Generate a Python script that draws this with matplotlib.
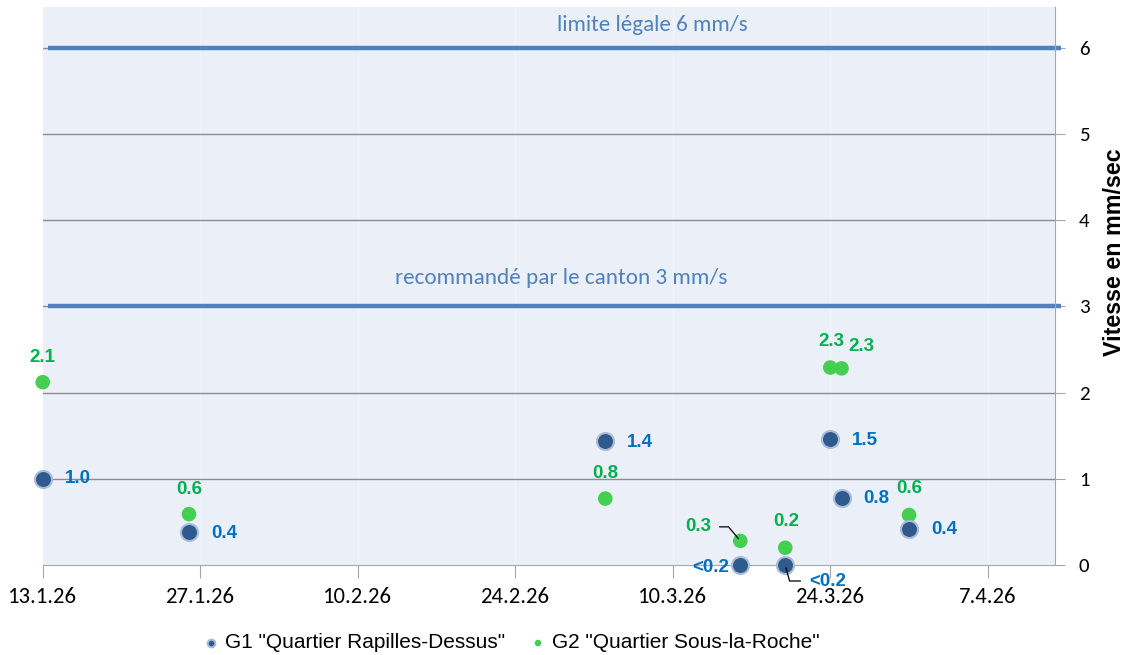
import matplotlib
matplotlib.use("Agg")
import matplotlib.pyplot as plt
import matplotlib.dates as mdates
from matplotlib import font_manager as fm
import numpy as np

# ---------------- data ----------------
dates = ["2026-01-13", "2026-01-26", "2026-03-04", "2026-03-16",
         "2026-03-20", "2026-03-24", "2026-03-25", "2026-03-31"]
g1_values = [1.0, 0.38, 1.44, 0.0, 0.0, 1.46, 0.78, 0.42]
g2_values = [2.12, 0.59, 0.77, 0.28, 0.20, 2.29, 2.28, 0.58]
g1_name = 'G1 "Quartier Rapilles-Dessus"'
g2_name = 'G2 "Quartier Sous-la-Roche"'
limit_legal = 6
limit_canton = 3
limit_legal_text = "limite légale 6 mm/s"
limit_canton_text = "recommandé par le canton 3 mm/s"
y_label = "Vitesse en mm/sec"
x_start = "2026-01-13"
x_end = "2026-04-13"
y_ticks = [0, 1, 2, 3, 4, 5, 6]

# label offsets in pixels (dx, dy), and whether to draw a leader line
g1_offsets = [(35, 0), (35, -1), (35, -2), (-30, -2), (42, -16), (35, -1), (35, -1), (35, -1)]
g2_offsets = [(0, 25), (0, 25), (0, 25), (-42, 14), (1, 26), (1, 26), (20, 22), (0, 26)]
g1_leader = [False, False, False, False, True, False, False, False]
g2_leader = [False, False, False, True, False, False, False, False]

# ---------------- fonts ----------------
avail = {f.name for f in fm.fontManager.ttflist}
def pick(*names):
    for n in names:
        if n in avail:
            return n
    return "DejaVu Sans"

f_arial = pick("Liberation Sans", "Arimo", "DejaVu Sans")
f_calibri = pick("Carlito", "Lato", "Open Sans", "DejaVu Sans")

# ---------------- colors ----------------
bg = "#EBF0F8"
line_blue = "#4F81BD"
g1_col = "#2F5A8E"
g1_edge = "#A9BCD6"
g2_col = "#45CF50"
g1_text = "#0070C0"
g2_text = "#00B050"
grid_col = "#8C8C8C"
axis_col = "#A6A6A6"

W, H = 1140, 655
dnum = mdates.datestr2num(dates)

fig = plt.figure(figsize=(W / 100, H / 100), dpi=100)
ax_l, ax_r, ax_b, ax_t = 42.7, 1055.3, 565, 7
ax = fig.add_axes([ax_l / W, 1 - ax_b / H, (ax_r - ax_l) / W, (ax_b - ax_t) / H])
ax.set_facecolor(bg)
renderer = fig.canvas.get_renderer()

def fit(t, target_px):
    """scale a text's font size so its rendered width matches target_px"""
    for _ in range(3):
        w = t.get_window_extent(renderer).width
        if w > 0:
            t.set_fontsize(t.get_fontsize() * target_px / w)

x0 = mdates.datestr2num(x_start)
x1 = mdates.datestr2num(x_end)
ax.set_xlim(x0, x1)
ax.set_ylim(0, 6.47)

# gridlines
for yv in y_ticks[1:]:
    ax.axhline(yv, color=grid_col, lw=1.0, zorder=1)
xt = np.arange(x0, x1, 14)
for xv in xt[1:]:
    ax.axvline(xv, color="white", lw=1.0, alpha=0.35, zorder=0.5)

# threshold lines
ytr = ax.get_yaxis_transform()
for yv in (limit_legal, limit_canton):
    ax.plot([0.005, 1.006], [yv, yv], transform=ytr, color=line_blue, lw=3.2,
            solid_capstyle="butt", clip_on=False, zorder=2)
t1 = ax.text((652.5 - ax_l) / (ax_r - ax_l), limit_legal + 0.26, limit_legal_text, transform=ytr,
             ha="center", va="center", color=line_blue, fontsize=16, family=f_calibri)
t2 = ax.text((561 - ax_l) / (ax_r - ax_l), limit_canton + 0.33, limit_canton_text, transform=ytr,
             ha="center", va="center", color=line_blue, fontsize=16, family=f_calibri)
fit(t1, 191)
fit(t2, 332)

# scatter
ax.scatter(dnum, g1_values, s=150, color=g1_col, edgecolors=g1_edge, linewidths=1.5,
           zorder=5, clip_on=False, label=g1_name)
ax.scatter(dnum, g2_values, s=110, color=g2_col, edgecolors="none",
           zorder=4, clip_on=False, label=g2_name)

def fmt(v):
    return "<0.2" if v < 0.15 else f"{v:.1f}"

def add_labels(vals, offs, leads, col):
    for xd, v, (dx, dy), lead in zip(dnum, vals, offs, leads):
        kw = {}
        if lead:
            angB = 130 if dy > 0 else 105
            kw["arrowprops"] = dict(arrowstyle="-", color="black", lw=0.9,
                                    connectionstyle="angle,angleA=0,angleB=%d,rad=0" % angB,
                                    shrinkA=4, shrinkB=2)
        ax.annotate(fmt(v), (xd, v), xytext=(dx, dy), textcoords="offset pixels",
                    ha="center", va="center", color=col, fontsize=13.5,
                    fontweight="bold", family=f_arial, zorder=6,
                    annotation_clip=False, **kw)

add_labels(g1_values, g1_offsets, g1_leader, g1_text)
add_labels(g2_values, g2_offsets, g2_leader, g2_text)

# axes styling
for s in ("top", "left"):
    ax.spines[s].set_visible(False)
ax.spines["right"].set_color(axis_col)
ax.spines["bottom"].set_color(axis_col)
ax.yaxis.tick_right()
ax.yaxis.set_label_position("right")
ax.set_yticks(y_ticks)
ax.tick_params(axis="y", length=7, color=axis_col, labelsize=15 if f_calibri == "Carlito" else 14, pad=10)
for lab in ax.get_yticklabels():
    lab.set_family(f_calibri)
ax.set_xticks(xt)
ax.set_xticklabels([mdates.num2date(v).strftime("%-d.%-m.%y") for v in xt])
ax.tick_params(axis="x", length=9, color=axis_col, labelsize=15, pad=7)
for lab in ax.get_xticklabels():
    lab.set_family(f_calibri)
fig.canvas.draw()
xl0 = ax.get_xticklabels()[0]
w = xl0.get_window_extent(renderer).width
xs = 15 * 69 / w if w > 0 else 15
ax.tick_params(axis="x", labelsize=xs)

yl = ax.set_ylabel(y_label, fontsize=16, fontweight="bold", family=f_arial)
ax.yaxis.set_label_coords((1103 - ax_l) / (ax_r - ax_l), (565 - 252) / (565 - 7))
fig.canvas.draw()
hh = yl.get_window_extent(renderer).height
if hh > 0:
    yl.set_fontsize(16 * 207 / hh)

leg = fig.legend(loc="center", bbox_to_anchor=(512 / W, 1 - 643 / H), ncol=2,
                 frameon=False, markerscale=0.45, handlelength=0.6, handletextpad=0.35,
                 columnspacing=1.3, prop={"family": f_arial, "size": 15})

fig.savefig("out.png", dpi=100)
